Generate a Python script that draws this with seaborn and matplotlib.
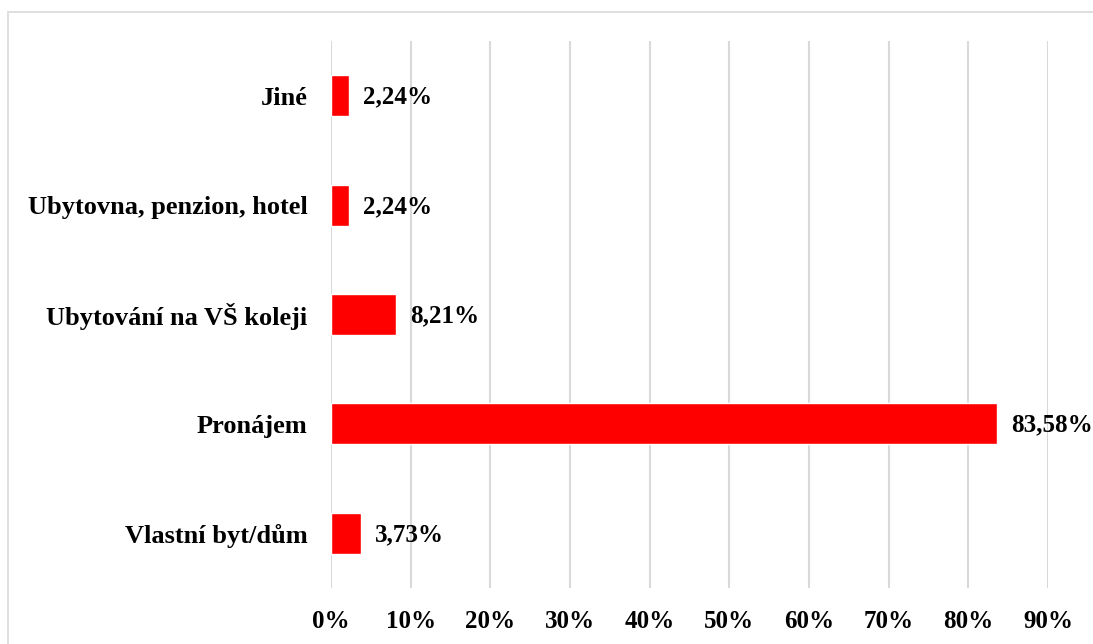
import matplotlib
matplotlib.use("Agg")
import matplotlib.pyplot as plt
import seaborn as sns
import pandas as pd
from matplotlib.ticker import FuncFormatter
from matplotlib.patches import Rectangle

# Data
categories = ["Jiné", "Ubytovna, penzion, hotel", "Ubytování na VŠ koleji",
              "Pronájem", "Vlastní byt/dům"]
shares = [2.24, 2.24, 8.21, 83.58, 3.73]

df = pd.DataFrame({"kategorie": categories, "podil": shares})

sns.set_theme(style="white")
plt.rcParams["font.family"] = ["Liberation Serif", "DejaVu Serif"]
plt.rcParams["font.weight"] = "bold"
plt.rcParams["text.color"] = "black"
plt.rcParams["xtick.color"] = "black"
plt.rcParams["ytick.color"] = "black"

fig = plt.figure(figsize=(10.93, 6.44), dpi=100)
ax = fig.add_axes([331 / 1093, 1 - 588 / 644, (1048 - 331) / 1093, (588 - 41) / 644])

sns.barplot(data=df, x="podil", y="kategorie", order=categories,
            color="#ff0000", saturation=1, width=0.375, ax=ax, zorder=3)

ax.set_xlim(0, 90)
ax.set_xticks(range(0, 91, 10))
ax.xaxis.set_major_formatter(FuncFormatter(lambda v, p: f"{v:.0f}%"))
ax.grid(axis="x", color="#d9d9d9", linewidth=1.5, zorder=0)
ax.grid(axis="y", visible=False)
for s in ax.spines.values():
    s.set_visible(False)
ax.tick_params(axis="both", length=0, labelsize=19, colors="black")
ax.tick_params(axis="x", labelsize=18, pad=16)
ax.tick_params(axis="y", pad=17)
for lbl in ax.get_xticklabels() + ax.get_yticklabels():
    lbl.set_fontweight("bold")
    lbl.set_color("black")
ax.set_xlabel("")
ax.set_ylabel("")

# Value labels
for i, v in enumerate(shares):
    ax.annotate(f"{v:.2f}%".replace(".", ","), xy=(v, i), xytext=(10, -1),
                textcoords="offset points", va="center", ha="left",
                fontsize=18, fontweight="bold", color="black")

# Figure frame
fig.patches.append(Rectangle((8 / 1093, -0.05), 1.2, 1 - 12 / 644 + 0.05,
                             transform=fig.transFigure, fill=False,
                             edgecolor="#d9d9d9", linewidth=1.2))

fig.savefig("out.png", dpi=100)
